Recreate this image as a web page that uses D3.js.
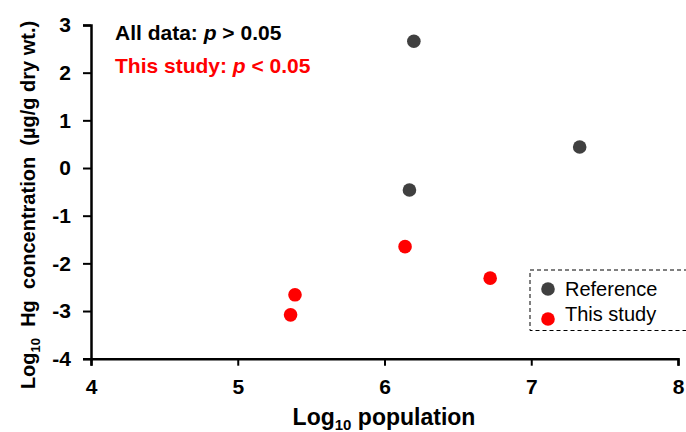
<!DOCTYPE html>
<html>
<head>
<meta charset="utf-8">
<script src="https://cdn.jsdelivr.net/npm/d3@7"></script>
<style>
  html, body { margin: 0; padding: 0; background: #fff; }
  svg { display: block; font-family: "Liberation Sans", Arial, sans-serif; }
</style>
</head>
<body>
<svg id="chart" width="686" height="432"></svg>
<script>
// Data
const referenceX = [6.20, 7.33, 6.17];
const referenceY = [2.66, 0.44, -0.46];
const studyX = [6.14, 6.72, 5.39, 5.36];
const studyY = [-1.65, -2.31, -2.66, -3.08];
const xTicks = [4, 5, 6, 7, 8];
const yTicks = [-4, -3, -2, -1, 0, 1, 2, 3];
const seriesNames = ["Reference", "This study"];
const seriesColors = ["#404040", "#ff0000"];

const svg = d3.select("#chart");
const x = d3.scaleLinear().domain([4, 8]).range([91, 678]);
const y = d3.scaleLinear().domain([-4, 3]).range([358.7, 25]);

// Axes
const xAxis = svg.append("g").attr("transform", `translate(0,${y(-4)})`)
  .call(d3.axisBottom(x).tickValues(xTicks).tickSize(7).tickPadding(13).tickFormat(d3.format("d")));
const yAxis = svg.append("g").attr("transform", `translate(${x(4)},0)`)
  .call(d3.axisLeft(y).tickValues(yTicks).tickSize(8).tickPadding(12).tickFormat(d3.format("d")));
[xAxis, yAxis].forEach(g => {
  g.select(".domain").attr("stroke", "#000").attr("stroke-width", 2.5);
  g.selectAll(".tick line").attr("stroke", "#000").attr("stroke-width", 2);
  g.selectAll(".tick text").attr("fill", "#000")
    .style("font-family", "'Liberation Sans', Arial, sans-serif")
    .style("font-size", "21px").style("font-weight", "bold");
});
yAxis.selectAll(".tick text").text(d => String(d));

// Points
const refData = referenceX.map((v, i) => ({x: v, y: referenceY[i]}));
const studyData = studyX.map((v, i) => ({x: v, y: studyY[i]}));
svg.append("g").selectAll("circle").data(refData).join("circle")
  .attr("cx", d => x(d.x)).attr("cy", d => y(d.y)).attr("r", 6.8).attr("fill", seriesColors[0]);
svg.append("g").selectAll("circle").data(studyData).join("circle")
  .attr("cx", d => x(d.x)).attr("cy", d => y(d.y)).attr("r", 6.8).attr("fill", seriesColors[1]);

// Annotations
const a1 = svg.append("text").attr("x", 115).attr("y", 40)
  .style("font-size", "21px").style("font-weight", "bold").attr("fill", "#000");
a1.append("tspan").text("All data: ");
a1.append("tspan").style("font-style", "italic").text("p");
a1.append("tspan").text(" > 0.05");
const a2 = svg.append("text").attr("x", 115).attr("y", 73)
  .style("font-size", "21px").style("font-weight", "bold").attr("fill", "#ff0000");
a2.append("tspan").text("This study: ");
a2.append("tspan").style("font-style", "italic").text("p");
a2.append("tspan").text(" < 0.05");

// X label
const xl = svg.append("text").attr("x", 384).attr("y", 425).attr("text-anchor", "middle")
  .style("font-size", "23px").style("font-weight", "bold").attr("fill", "#000");
xl.append("tspan").text("Log");
xl.append("tspan").attr("dy", 5).style("font-size", "15px").text("10");
xl.append("tspan").attr("dy", -5).text(" population");

// Y label
const yl = svg.append("text").attr("transform", "translate(35,205) rotate(-90)").attr("text-anchor", "middle")
  .style("font-size", "20px").style("font-weight", "bold").attr("fill", "#000");
yl.append("tspan").text("Log");
yl.append("tspan").attr("dy", 5).style("font-size", "13px").text("10");
yl.append("tspan").attr("dy", -5).text("\u00a0 Hg\u00a0 concentration\u00a0 (\u00b5g/g dry wt.)");

// Legend
svg.append("rect").attr("x", 530).attr("y", 270).attr("width", 160).attr("height", 60.5)
  .attr("fill", "none").attr("stroke", "#000").attr("stroke-width", 1).attr("stroke-dasharray", "4,3");
const leg = svg.append("g").selectAll("g").data(seriesNames).join("g")
  .attr("transform", (d, i) => `translate(548,${289 + i * 30})`);
leg.append("circle").attr("r", 6.8).attr("fill", (d, i) => seriesColors[i]);
leg.append("text").attr("x", 17).attr("y", 0).attr("dy", "0.35em")
  .style("font-size", "20px").attr("fill", "#000")
  .attr("transform", (d, i) => i === 1 ? "translate(0,-5)" : null)
  .text(d => d);
</script>
</body>
</html>
